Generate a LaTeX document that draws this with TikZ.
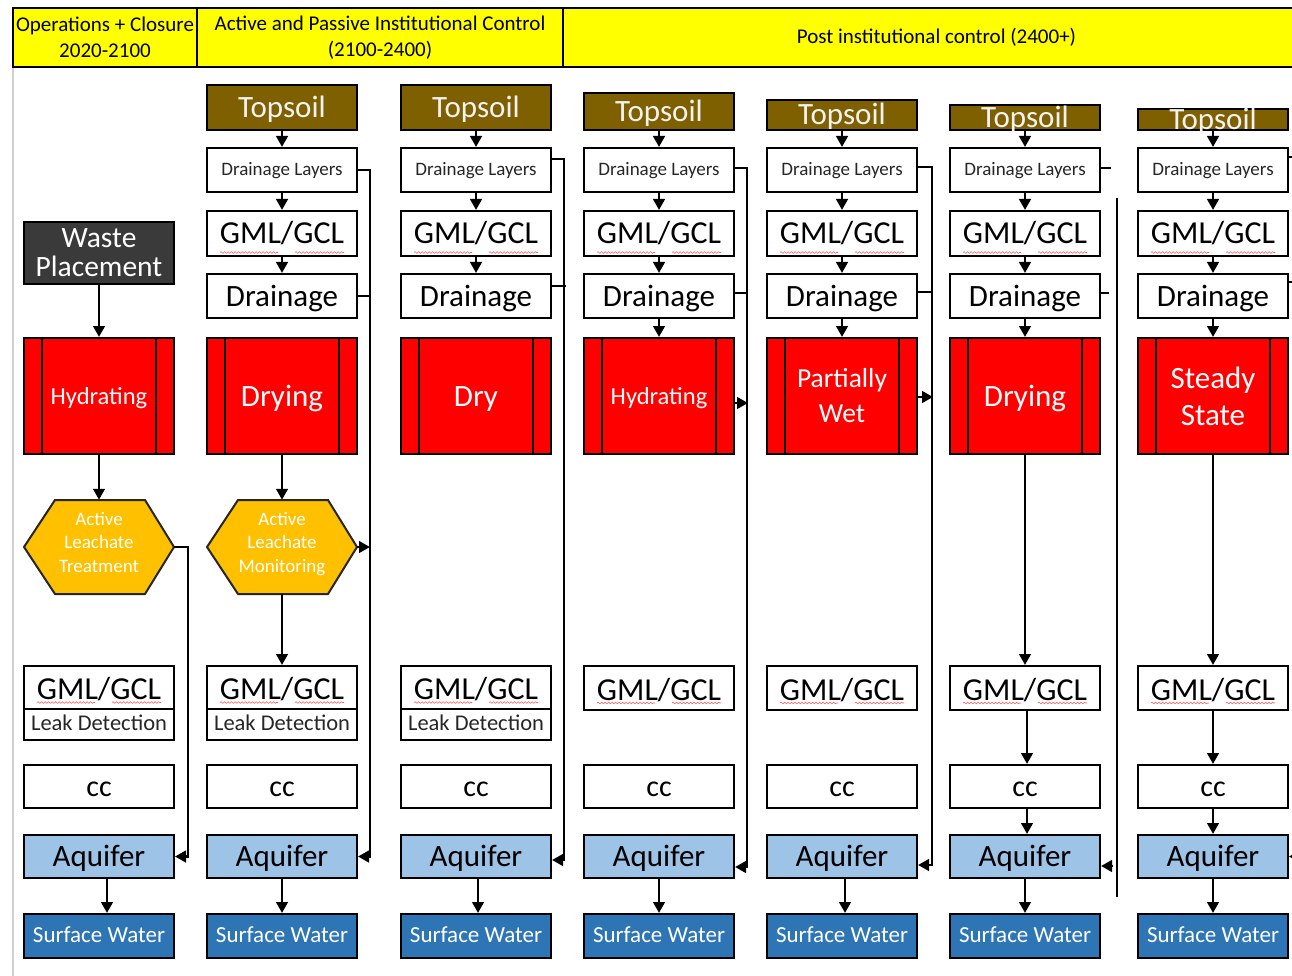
\documentclass[tikz,border=0pt]{standalone}
\usepackage{fontspec}
\setmainfont{Carlito}
\usetikzlibrary{arrows.meta,decorations.pathmorphing}
\definecolor{soil}{HTML}{7F6000}
\definecolor{hexo}{HTML}{FFC000}
\definecolor{aqua}{HTML}{9DC3E6}
\definecolor{swb}{HTML}{2E75B6}
\definecolor{wpg}{HTML}{3A3A3A}
\definecolor{redx}{HTML}{FF0000}
\definecolor{hdr}{HTML}{FFFF00}
\newcommand\fs[1]{\fontsize{#1}{#1}\selectfont}
\newcommand\gmlsquig[2]{%
  \draw[squig] ([xshift=-62pt,yshift=-#2pt]#1.center) -- ([xshift=-4pt,yshift=-#2pt]#1.center);
  \draw[squig] ([xshift=13pt,yshift=-#2pt]#1.center) -- ([xshift=62pt,yshift=-#2pt]#1.center);}
\begin{document}
\begin{tikzpicture}[x=1pt,y=-1pt,
  base/.style={draw=black,line width=2pt,minimum width=150pt,inner sep=0pt,align=center,text=black},
  hcell/.style={draw=black,line width=2pt,fill=hdr,inner sep=0pt,align=center,minimum height=59pt,font=\fontsize{21}{25.5}\selectfont},
  topsoil/.style={base,fill=soil,text=white!95!black,font=\fs{31},text height=20pt,text depth=0pt},
  dlay/.style={base,fill=white,minimum height=44pt,font=\fs{19},text=black!85,text height=11.5pt,text depth=0pt},
  big/.style={base,fill=white,minimum height=44pt,font=\fs{31},text height=20pt,text depth=0pt},
  gml/.style={base,fill=white,font=\fs{32},text height=20pt,text depth=0pt},
  gmllow/.style={base,fill=white,font=\fs{32},text height=24pt,text depth=0pt},
  leak/.style={base,fill=white,minimum height=31pt,font=\fs{22.5},text=black!85,text height=11pt,text depth=0pt},
  ccbox/.style={base,fill=white,minimum height=43pt,font=\fs{30},text height=20pt,text depth=0pt},
  aq/.style={base,fill=aqua,minimum height=43pt,font=\fs{31},text height=20pt,text depth=0pt},
  sw/.style={base,fill=swb,text=white,minimum height=44pt,font=\fs{23},text height=12pt,text depth=0pt},
  waste/.style={base,fill=wpg,text=white,minimum height=62pt,font=\fontsize{29.5}{29}\selectfont},
  proc/.style={base,fill=redx,text=white,minimum height=116pt,
    path picture={\draw[line width=1.6pt]
      ([xshift=18pt]path picture bounding box.north west) -- ([xshift=18pt]path picture bounding box.south west)
      ([xshift=-18pt]path picture bounding box.north east) -- ([xshift=-18pt]path picture bounding box.south east);}},
  hexfill/.style={fill=hexo,draw=black!85,line width=2pt,line join=miter},
  hexn/.style={minimum width=150pt,minimum height=94pt,inner sep=0pt,align=center,text=white,font=\fontsize{19}{23.5}\selectfont,text height=54pt,text depth=4pt},
  conn/.style={draw=black,line width=2.9pt},
  arr/.style={conn,-{Triangle[length=11pt,width=11.5pt]}},
  squig/.style={draw=red!65,line width=0.6pt,decorate,decoration={snake,segment length=3.5pt,amplitude=0.8pt}}
]
\useasboundingbox (0,0) rectangle (1292,976);
\fill[white] (0,0) rectangle (1292,976);
\draw[black!18,line width=1.5pt] (13,67) -- (13,976);

% header
\node[hcell,minimum width=184pt] (h1) at (105,37.5) {Operations + Closure\\2020-2100};
\node[hcell,minimum width=366pt] (h2) at (380,37.5) {Active and Passive Institutional Control\\(2100-2400)};
\node[hcell,minimum width=747pt] (h3) at (936.5,37.5) {Post institutional control (2400+)};

% column 1
\node[waste] (wp1) at (99,253) {Waste\\Placement};
\node[proc,font=\fs{24.5},text height=16pt,text depth=0pt] (p1) at (99,396) {Hydrating};
\filldraw[hexfill] (24,547) -- (55,500) -- (145,500) -- (174,547) -- (145,594) -- (55,594) -- cycle;
\node[hexn] (hx1) at (99,547) {Active\\Leachate\\Treatment};
\node[gmllow,minimum height=43pt] (gl1) at (99,687.5) {GML/GCL};
\node[leak] (ld1) at (99,724.5) {Leak Detection};
\node[ccbox] (cc1) at (99,786.5) {cc};
\node[aq] (aq1) at (99,856.5) {Aquifer};
\node[sw] (sw1) at (99,936) {Surface Water};

% column 2
\node[topsoil,minimum height=45pt] (ts2) at (282,107.5) {Topsoil};
\node[dlay] (dl2) at (282,170) {Drainage Layers};
\node[gml,minimum height=45pt] (gu2) at (282,233.5) {GML/GCL};
\node[big] (dr2) at (282,296) {Drainage};
\node[proc,font=\fs{31},text height=21pt,text depth=0pt] (p2) at (282,396) {Drying};
\filldraw[hexfill] (207,547) -- (238,500) -- (328,500) -- (357,547) -- (328,594) -- (238,594) -- cycle;
\node[hexn] (hx2) at (282,547) {Active\\Leachate\\Monitoring};
\node[gmllow,minimum height=43pt] (gl2) at (282,687.5) {GML/GCL};
\node[leak] (ld2) at (282,724.5) {Leak Detection};
\node[ccbox] (cc2) at (282,786.5) {cc};
\node[aq] (aq2) at (282,856.5) {Aquifer};
\node[sw] (sw2) at (282,936) {Surface Water};

% column 3
\node[topsoil,minimum height=45pt] (ts3) at (476,107.5) {Topsoil};
\node[dlay] (dl3) at (476,170) {Drainage Layers};
\node[gml,minimum height=45pt] (gu3) at (476,233.5) {GML/GCL};
\node[big] (dr3) at (476,296) {Drainage};
\node[proc,font=\fs{31},text height=21pt,text depth=0pt] (p3) at (476,396) {Dry};
\node[gmllow,minimum height=43pt] (gl3) at (476,687.5) {GML/GCL};
\node[leak] (ld3) at (476,724.5) {Leak Detection};
\node[ccbox] (cc3) at (476,786.5) {cc};
\node[aq] (aq3) at (476,856.5) {Aquifer};
\node[sw] (sw3) at (476,936) {Surface Water};

% column 4
\node[topsoil,minimum height=37pt] (ts4) at (659,111.5) {Topsoil};
\node[dlay] (dl4) at (659,170) {Drainage Layers};
\node[gml,minimum height=45pt] (gu4) at (659,233.5) {GML/GCL};
\node[big] (dr4) at (659,296) {Drainage};
\node[proc,font=\fs{24.5},text height=16pt,text depth=0pt] (p4) at (659,396) {Hydrating};
\node[gmllow,minimum height=44pt] (gl4) at (659,688) {GML/GCL};
\node[ccbox] (cc4) at (659,786.5) {cc};
\node[aq] (aq4) at (659,856.5) {Aquifer};
\node[sw] (sw4) at (659,936) {Surface Water};

% column 5
\node[topsoil,minimum height=30pt] (ts5) at (842,115) {Topsoil};
\node[dlay] (dl5) at (842,170) {Drainage Layers};
\node[gml,minimum height=45pt] (gu5) at (842,233.5) {GML/GCL};
\node[big] (dr5) at (842,296) {Drainage};
\node[proc,font=\fontsize{27.5}{35}\selectfont] (p5) at (842,396) {Partially\\Wet};
\node[gmllow,minimum height=44pt] (gl5) at (842,688) {GML/GCL};
\node[ccbox] (cc5) at (842,786.5) {cc};
\node[aq] (aq5) at (842,856.5) {Aquifer};
\node[sw] (sw5) at (842,936) {Surface Water};

% column 6
\node[topsoil,minimum height=25pt] (ts6) at (1025,117.5) {Topsoil};
\node[dlay] (dl6) at (1025,170) {Drainage Layers};
\node[gml,minimum height=45pt] (gu6) at (1025,233.5) {GML/GCL};
\node[big] (dr6) at (1025,296) {Drainage};
\node[proc,font=\fs{31},text height=21pt,text depth=0pt] (p6) at (1025,396) {Drying};
\node[gmllow,minimum height=44pt] (gl6) at (1025,688) {GML/GCL};
\node[ccbox] (cc6) at (1025,786.5) {cc};
\node[aq] (aq6) at (1025,856.5) {Aquifer};
\node[sw] (sw6) at (1025,936) {Surface Water};

% column 7
\node[topsoil,minimum height=21pt] (ts7) at (1213,119.5) {Topsoil};
\node[dlay] (dl7) at (1213,170) {Drainage Layers};
\node[gml,minimum height=45pt] (gu7) at (1213,233.5) {GML/GCL};
\node[big] (dr7) at (1213,296) {Drainage};
\node[proc,font=\fontsize{31}{37}\selectfont] (p7) at (1213,396) {Steady\\State};
\node[gmllow,minimum height=44pt] (gl7) at (1213,688) {GML/GCL};
\node[ccbox] (cc7) at (1213,786.5) {cc};
\node[aq] (aq7) at (1213,856.5) {Aquifer};
\node[sw] (sw7) at (1213,936) {Surface Water};

% spell-check squiggles
\foreach \n in {gu2,gu3,gu4,gu5,gu6,gu7}{\gmlsquig{\n}{19}}
\foreach \n in {gl1,gl2,gl3,gl4,gl5,gl6,gl7}{\gmlsquig{\n}{15}}

% bus coordinates
\coordinate (b1) at (188,0);
\coordinate (b2) at (370,0);
\coordinate (b3) at (564,0);
\coordinate (b4) at (747,0);
\coordinate (b5) at (932,0);
\coordinate (v6a) at (1117,198);
\coordinate (v6b) at (1117,897);
\coordinate (a3) at ([yshift=-3.5pt]aq3.east);
\coordinate (a4) at ([yshift=-10.5pt]aq4.east);
\coordinate (a5) at ([yshift=-8.5pt]aq5.east);
\coordinate (a6) at ([yshift=-9.5pt]aq6.east);

% column 1 connectors
\draw[arr] (wp1) -- (p1);
\draw[arr] (p1) -- (hx1);
\draw[arr] (hx1.east) -| (b1 |- aq1.east) -- (aq1.east);
\draw[arr] ([xshift=8pt]aq1.south) -- ([xshift=8pt]sw1.north);

% column 2 connectors
\draw[arr] (ts2) -- (dl2);
\draw[arr] (dl2) -- (gu2);
\draw[arr] (gu2) -- (dr2);
\draw[arr] (p2) -- (hx2);
\draw[arr] (hx2) -- (gl2);
\draw[arr] (dl2.east) -| (b2 |- aq2.east) -- (aq2.east);
\draw[conn] (dr2.east) -- (dr2.east -| b2);
\draw[arr] (hx2.east) -- (hx2.east -| b2);
\draw[arr] (aq2) -- (sw2);

% column 3 connectors
\draw[arr] (ts3) -- (dl3);
\draw[arr] (dl3) -- (gu3);
\draw[arr] (gu3) -- (dr3);
\draw[arr] ([yshift=11pt]dl3.east) -| (b3 |- a3) -- (a3);
\draw[conn] ([yshift=10pt]dr3.east) -- ++(14,0);
\draw[arr] ([xshift=2pt]aq3.south) -- ([xshift=2pt]sw3.north);

% column 4 connectors
\draw[arr] (ts4) -- (dl4);
\draw[arr] (dl4) -- (gu4);
\draw[arr] (gu4) -- (dr4);
\draw[arr] (dr4) -- (p4);
\draw[arr] ([yshift=2pt]dl4.east) -| (b4 |- a4) -- (a4);
\draw[conn] ([yshift=3pt]dr4.east) -- ++(13,0);
\draw[arr] ([yshift=-7pt]p4.east) -- ++(13,0);
\draw[arr] (aq4) -- (sw4);

% column 5 connectors
\draw[arr] (ts5) -- (dl5);
\draw[arr] (dl5) -- (gu5);
\draw[arr] (gu5) -- (dr5);
\draw[arr] (dr5) -- (p5);
\draw[arr] ([yshift=3pt]dl5.east) -| (b5 |- a5) -- (a5);
\draw[conn] ([yshift=4pt]dr5.east) -- ++(15,0);
\draw[arr] ([yshift=-1pt]p5.east) -- ++(15,0);
\draw[arr] ([xshift=3pt]aq5.south) -- ([xshift=3pt]sw5.north);

% column 6 connectors
\draw[arr] (ts6) -- (dl6);
\draw[arr] (dl6) -- (gu6);
\draw[arr] (gu6) -- (dr6);
\draw[arr] (dr6) -- (p6);
\draw[arr] (p6) -- (gl6);
\draw[arr] ([xshift=2pt]gl6.south) -- ([xshift=2pt]cc6.north);
\draw[arr] ([xshift=2pt]cc6.south) -- ([xshift=2pt]aq6.north);
\draw[arr] (aq6) -- (sw6);
\draw[conn] ([yshift=2pt]dl6.east) -- ++(10,0);
\draw[conn] ([yshift=3pt]dr6.east) -- ++(8,0);
\draw[conn] (v6a) -- (v6b);
\draw[arr] ([xshift=12pt]a6) -- (a6);

% column 7 connectors
\draw[arr] (ts7) -- (dl7);
\draw[arr] (dl7) -- (gu7);
\draw[arr] (gu7) -- (dr7);
\draw[arr] (dr7) -- (p7);
\draw[arr] (p7) -- (gl7);
\draw[arr] (gl7) -- (cc7);
\draw[arr] (cc7) -- (aq7);
\draw[arr] (aq7) -- (sw7);
\draw[conn] ([yshift=13pt]dl7.east) -- ++(14,0);
\draw[conn] ([yshift=14pt]dr7.east) -- ++(14,0);
\draw[arr] ([xshift=12pt]aq7.east) -- (aq7.east);
\end{tikzpicture}
\end{document}
